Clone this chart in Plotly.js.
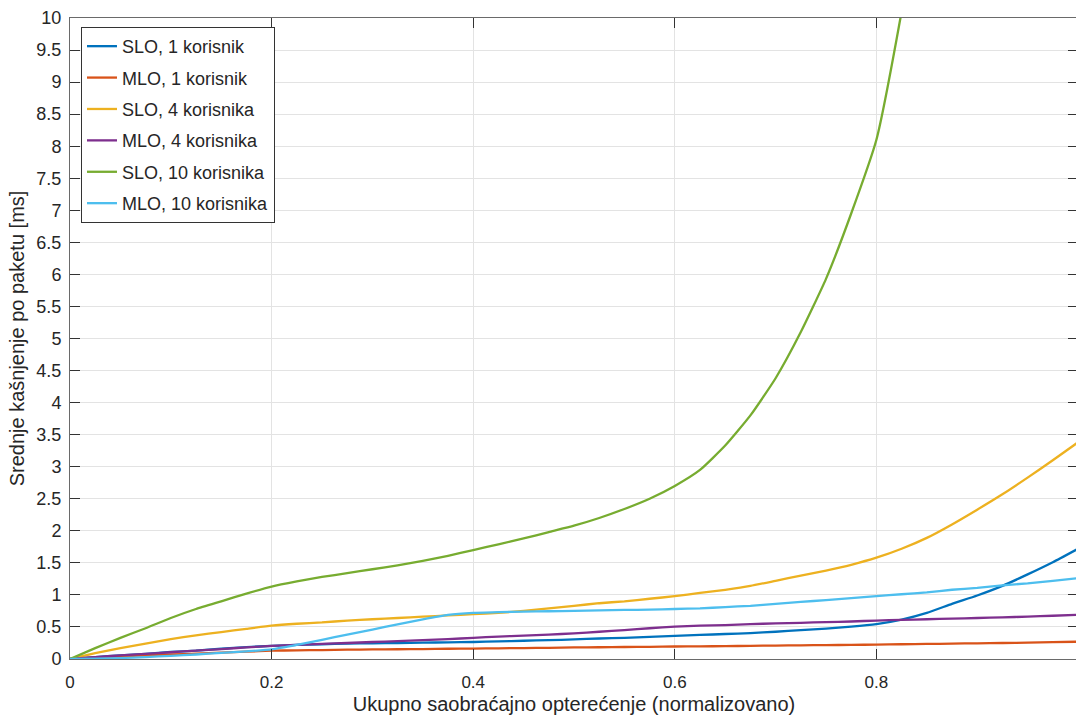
<!DOCTYPE html>
<html>
<head>
<meta charset="utf-8">
<script src="https://cdn.plot.ly/plotly-3.0.1.min.js"></script>
<style>
  html, body { margin: 0; padding: 0; background: #ffffff; overflow: hidden; }
  #chart { width: 1082px; height: 715px; }
</style>
</head>
<body>
<div id="chart"></div>
<script>
// Normalized total traffic load (x axis), step 0.025
const load = [0, 0.025, 0.05, 0.075, 0.1, 0.125, 0.15, 0.175, 0.2, 0.225,
  0.25, 0.275, 0.3, 0.325, 0.35, 0.375, 0.4, 0.425, 0.45, 0.475,
  0.5, 0.525, 0.55, 0.575, 0.6, 0.625, 0.65, 0.675, 0.7, 0.725,
  0.75, 0.775, 0.8, 0.825, 0.85, 0.875, 0.9, 0.925, 0.95, 0.975, 1.0];

// Mean per-packet delay [ms]
const sloOneUser = [0, 0.03, 0.055, 0.08, 0.11, 0.13, 0.16, 0.185, 0.205, 0.22,
  0.23, 0.24, 0.245, 0.25, 0.255, 0.26, 0.265, 0.275, 0.285, 0.295,
  0.305, 0.32, 0.33, 0.345, 0.36, 0.375, 0.39, 0.405, 0.425, 0.45,
  0.475, 0.505, 0.545, 0.615, 0.72, 0.86, 0.99, 1.14, 1.32, 1.51, 1.72];

const mloOneUser = [0, 0.02, 0.04, 0.055, 0.07, 0.085, 0.1, 0.115, 0.13, 0.135,
  0.14, 0.145, 0.15, 0.152, 0.155, 0.16, 0.163, 0.167, 0.17, 0.175,
  0.18, 0.183, 0.187, 0.19, 0.195, 0.198, 0.2, 0.205, 0.21, 0.213,
  0.217, 0.22, 0.225, 0.23, 0.235, 0.24, 0.245, 0.25, 0.255, 0.262, 0.27];

const sloFourUsers = [0, 0.09, 0.17, 0.24, 0.31, 0.37, 0.42, 0.47, 0.52, 0.55,
  0.57, 0.6, 0.62, 0.64, 0.66, 0.68, 0.7, 0.72, 0.75, 0.79,
  0.83, 0.87, 0.9, 0.94, 0.98, 1.03, 1.08, 1.14, 1.22, 1.3,
  1.38, 1.47, 1.58, 1.72, 1.89, 2.1, 2.33, 2.57, 2.83, 3.1, 3.38];

const mloFourUsers = [0, 0.03, 0.055, 0.08, 0.105, 0.13, 0.155, 0.18, 0.205, 0.22,
  0.235, 0.25, 0.265, 0.28, 0.295, 0.31, 0.33, 0.35, 0.365, 0.38,
  0.4, 0.425, 0.45, 0.48, 0.505, 0.52, 0.53, 0.545, 0.555, 0.565,
  0.575, 0.585, 0.6, 0.61, 0.62, 0.63, 0.64, 0.65, 0.66, 0.675, 0.69];

const sloTenUsers = [0, 0.17, 0.33, 0.48, 0.64, 0.78, 0.9, 1.02, 1.13, 1.21,
  1.28, 1.34, 1.4, 1.46, 1.53, 1.61, 1.7, 1.79, 1.88, 1.98,
  2.08, 2.2, 2.34, 2.5, 2.7, 2.95, 3.33, 3.8, 4.38, 5.1,
  5.93, 6.95, 8.1, 10.1, 12.5, null, null, null, null, null, null];

const mloTenUsers = [0, 0.005, 0.015, 0.03, 0.05, 0.07, 0.095, 0.12, 0.15, 0.22,
  0.3, 0.38, 0.46, 0.54, 0.62, 0.69, 0.72, 0.73, 0.74, 0.745,
  0.75, 0.76, 0.765, 0.77, 0.78, 0.79, 0.81, 0.83, 0.86, 0.89,
  0.92, 0.95, 0.98, 1.01, 1.04, 1.08, 1.11, 1.15, 1.18, 1.22, 1.26];

const seriesNames = ['SLO, 1 korisnik', 'MLO, 1 korisnik', 'SLO, 4 korisnika',
  'MLO, 4 korisnika', 'SLO, 10 korisnika', 'MLO, 10 korisnika'];
const seriesValues = [sloOneUser, mloOneUser, sloFourUsers, mloFourUsers, sloTenUsers, mloTenUsers];
const seriesColors = ['#0072BD', '#D95319', '#EDB120', '#7E2F8E', '#77AC30', '#4DBEEE'];

const yTicks = [0, 0.5, 1, 1.5, 2, 2.5, 3, 3.5, 4, 4.5, 5, 5.5, 6, 6.5, 7, 7.5, 8, 8.5, 9, 9.5, 10];
const yTickText = ['0', '0.5', '1', '1.5', '2', '2.5', '3', '3.5', '4', '4.5', '5', '5.5', '6', '6.5', '7', '7.5', '8', '8.5', '9', '9.5', '10'];
const xTicks = [0, 0.2, 0.4, 0.6, 0.8, 1];
const xTickText = ['0', '0.2', '0.4', '0.6', '0.8', '1'];

const traces = seriesValues.map((vals, i) => ({
  x: load,
  y: vals,
  type: 'scatter',
  mode: 'lines',
  name: seriesNames[i],
  legendgroup: 'g' + i,
  line: { color: seriesColors[i], width: 2.3, shape: 'spline', smoothing: 0.5 },
  connectgaps: false
}));

const fontFamily = '"Liberation Sans", Arial, Helvetica, sans-serif';
const axisCommon = {
  showgrid: true,
  gridcolor: '#e3e3e3',
  gridwidth: 1,
  zeroline: false,
  showline: true,
  linecolor: '#6a6a6a',
  linewidth: 1,
  mirror: 'ticks',
  ticks: 'inside',
  ticklen: 10,
  tickwidth: 1,
  tickcolor: '#333333',
  tickfont: { family: fontFamily, size: 18, color: '#262626' },
  fixedrange: true
};

const layout = {
  width: 1082,
  height: 715,
  margin: { l: 70, r: 4, t: 18, b: 56 },
  paper_bgcolor: '#ffffff',
  plot_bgcolor: '#ffffff',
  font: { family: fontFamily, color: '#262626' },
  showlegend: true,
  legend: {
    x: 0.0109, y: 0.986, xanchor: 'left', yanchor: 'top',
    bgcolor: '#ffffff',
    bordercolor: '#333333',
    borderwidth: 1,
    font: { family: fontFamily, size: 18, color: '#262626' },
    tracegroupgap: 5,
    itemwidth: 30
  },
  xaxis: Object.assign({}, axisCommon, {
    range: [0, 1],
    tickmode: 'array',
    tickvals: xTicks,
    ticktext: xTickText,
    tickfont: { family: fontFamily, size: 17, color: '#262626' },
    ticklabelstandoff: 8,
    title: { text: 'Ukupno saobraćajno opterećenje (normalizovano)', font: { family: fontFamily, size: 20, color: '#262626' }, standoff: 6 }
  }),
  yaxis: Object.assign({}, axisCommon, {
    range: [0, 10],
    tickmode: 'array',
    tickvals: yTicks,
    ticktext: yTickText,
    ticklabelstandoff: 4,
    title: { text: 'Srednje kašnjenje po paketu [ms]', font: { family: fontFamily, size: 20, color: '#262626' }, standoff: 6 }
  })
};

Plotly.newPlot('chart', traces, layout, { displayModeBar: false, staticPlot: true });
</script>
</body>
</html>
